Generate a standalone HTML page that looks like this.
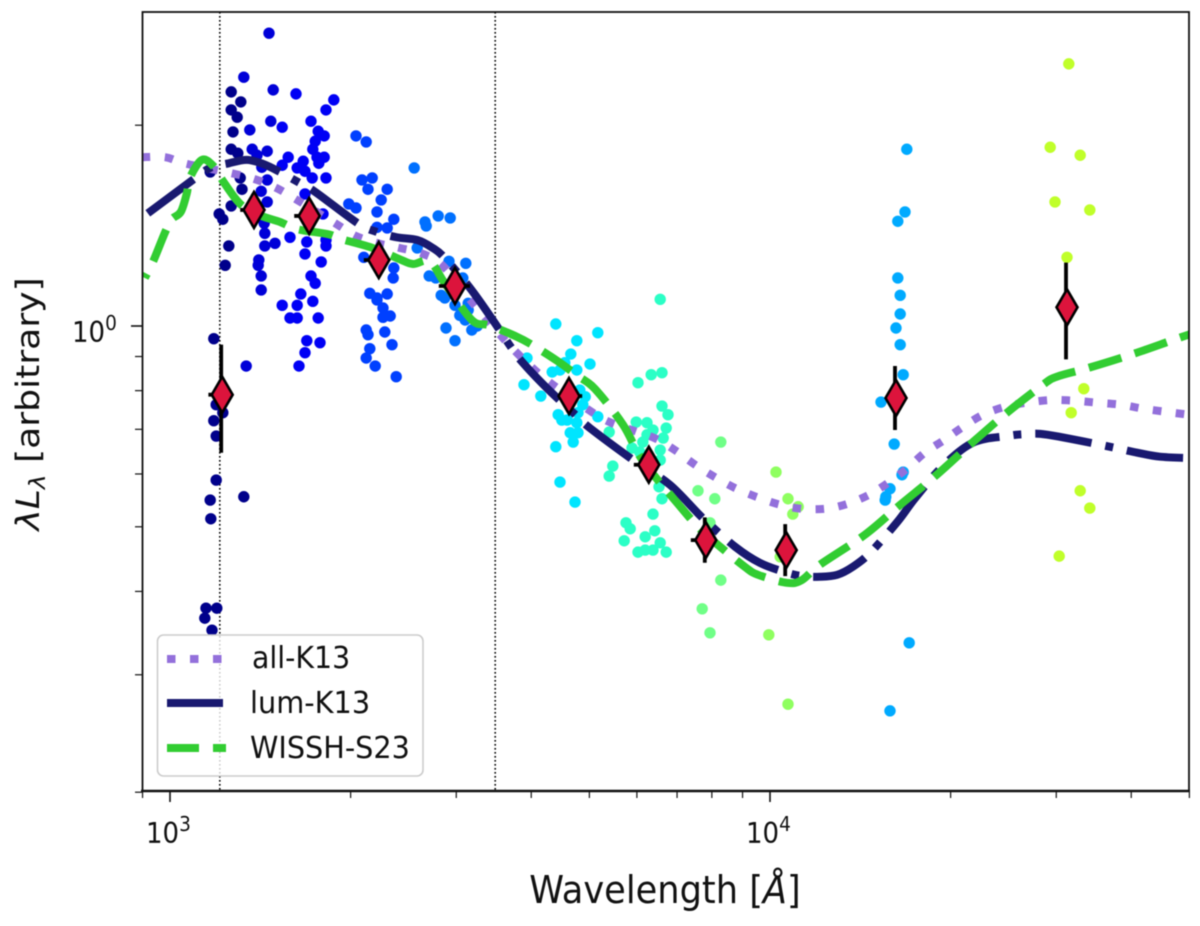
<!DOCTYPE html>
<html lang="en">
<head>
<meta charset="utf-8">
<title>Quasar SED chart</title>
<style>
html,body{margin:0;padding:0;background:#fff;}
svg{display:block;filter:blur(0.6px);}
text{font-family:"DejaVu Sans","Liberation Sans",sans-serif;fill:#111;}
</style>
</head>
<body>
<svg id="chart" width="1200" height="926" viewBox="0 0 1200 926" xmlns="http://www.w3.org/2000/svg">
  <defs><clipPath id="plot-clip"><rect x="142" y="12" width="1047" height="779"/></clipPath></defs>
  <rect x="0" y="0" width="1200" height="926" fill="#fff"/>
  <g id="ref-lines" clip-path="url(#plot-clip)"></g>
  <g id="dots" clip-path="url(#plot-clip)"></g>
  <g id="curves" clip-path="url(#plot-clip)"></g>
  <g id="means" clip-path="url(#plot-clip)"></g>
  <g id="axes">
    <rect x="142.5" y="12" width="1046.5" height="779" fill="none" stroke="#111" stroke-width="1.8"/>
    <line x1="141" x2="1190" y1="791" y2="791" stroke="#111" stroke-width="2.6"/>
  </g>
  <g id="legend">
    <rect x="157.5" y="635" width="265.5" height="141" rx="6" ry="6" fill="#fff" fill-opacity="0.8" stroke="#cccccc" stroke-width="1.6"/>
    <g>
      <line x1="167" x2="224" y1="659" y2="659" stroke="#9370db" stroke-width="8" stroke-dasharray="8.5 14.5"/>
      <text transform="translate(252,668) scale(1,1.06)" font-size="28.4">all-K13</text>
    </g>
    <g>
      <line x1="167" x2="223" y1="703" y2="703" stroke="#191970" stroke-width="8"/>
      <text transform="translate(250,713) scale(1,1.06)" font-size="28.8">lum-K13</text>
    </g>
    <g>
      <line x1="167" x2="226" y1="748" y2="748" stroke="#32cd32" stroke-width="8" stroke-dasharray="32 14"/>
      <text transform="translate(250,758) scale(1,1.06)" font-size="28.7">WISSH-S23</text>
    </g>
  </g>
  <text transform="translate(665,903) scale(1,1.08)" text-anchor="middle" font-size="35.2">Wavelength [<tspan font-style="italic">Å</tspan>]</text>
  <text transform="translate(39,404) rotate(-90) scale(1.13,1)" text-anchor="middle" font-size="32"><tspan font-style="italic">λL</tspan><tspan font-style="italic" font-size="22" dy="6">λ</tspan><tspan dy="-6"> [arbitrary]</tspan></text>
</svg>
<script>
// All values are log10(wavelength / Angstrom) and log10(lambda L_lambda).
const xTicksMajor = [3, 4];
const xTickExponents = ['3', '4'];
const xTicksMinor = [900, 2000, 3000, 4000, 5000, 6000, 7000, 8000, 9000, 20000, 30000, 40000, 50000];
const yTicksMajor = [1];
const yTickExponents = ['0'];
const yTicksMinor = [0.2, 0.3, 0.4, 0.5, 0.6, 0.7, 0.8, 0.9, 2];
const refWavelengths = [3.083, 3.542];

const band1Wave = [3.102,3.118,3.102,3.112,3.105,3.102,3.113,3.117,3.120,3.102,3.082,3.088,3.098,3.092,3.073,3.077,3.088,3.073,3.077,3.077,3.067,3.068,3.060,3.078,3.058,3.070,3.123,3.067];
const band1Lum = [.351,.336,.324,.313,.291,.265,.259,.222,.205,.180,.168,.160,.120,.091,-.019,-.118,-.130,-.142,-.165,-.231,-.261,-.289,-.423,-.423,-.438,-.456,-.256,.231];
const band2Wave = [3.123,3.165,3.172,3.168,3.133,3.137,3.162,3.145,3.153,3.162,3.152,3.162,3.157,3.158,3.158,3.175,3.148,3.147,3.152,3.152,3.127];
const band2Lum = [.373,.439,.354,.307,.294,.265,.262,.256,.238,.219,.202,.186,.154,.139,.120,.124,.099,.091,.075,.054,-.060];
const band3Wave = [3.210,3.273,3.260,3.187,3.235,3.247,3.257,3.242,3.238,3.257,3.245,3.197,3.222,3.248,3.187,3.212,3.225,3.237,3.260,3.225,3.255,3.200,3.228,3.260,3.260,3.225,3.252,3.235,3.242,3.218,3.238,3.187,3.212,3.200,3.212,3.247,3.228,3.250,3.225,3.215];
const band3Lum = [.348,.339,.324,.298,.307,.292,.285,.277,.265,.253,.253,.253,.247,.244,.241,.237,.232,.222,.222,.198,.168,.133,.126,.129,.120,.108,.096,.075,.064,.048,.037,.031,.031,.012,.012,.012,-.022,-.025,-.040,-.060];
const band4Wave = [3.310,3.327,3.320,3.337,3.330,3.362,3.352,3.298,3.310,3.345,3.373,3.345,3.362,3.323,3.373,3.372,3.333,3.362,3.345,3.355,3.355,3.367,3.345,3.327,3.330,3.358,3.370,3.333,3.327,3.342,3.377];
const band4Lum = [.285,.276,.219,.222,.205,.205,.189,.183,.177,.171,.160,.148,.147,.103,.087,.072,.049,.048,.042,.027,.013,.015,.039,-.006,-.013,-.009,-.028,-.034,-.048,-.060,-.076];
const band5Wave = [3.407,3.425,3.447,3.467,3.427,3.412,3.465,3.493,3.432,3.443,3.488,3.452,3.458,3.475,3.497,3.497,3.483,3.492,3.512,3.503,3.460,3.475];
const band5Lum = [.237,.156,.165,.162,.150,.117,.097,.094,.075,.072,.072,.046,.042,.031,.034,.024,.016,.009,.000,-.006,-.003,-.022];
const band6Wave = [3.643,3.713,3.678,3.668,3.700,3.595,3.658,3.637,3.650,3.678,3.590,3.618,3.647,3.662,3.653,3.688,3.692,3.713,3.678,3.667,3.680,3.672,3.643,3.650,3.675,3.683,3.680];
const band6Lum = [.003,-.010,-.022,-.042,-.057,-.048,-.055,-.069,-.066,-.066,-.088,-.105,-.133,-.141,-.141,-.118,-.106,-.136,-.145,-.160,-.160,-.174,-.181,-.234,-.264,-.096,-.130];
const band7Wave = [3.817,3.820,3.802,3.780,3.820,3.830,3.777,3.795,3.827,3.732,3.805,3.795,3.822,3.788,3.817,3.770,3.783,3.817,3.738,3.732,3.815,3.820,3.805,3.760,3.767,3.808,3.792,3.757,3.817,3.780,3.792,3.805,3.827];
const band7Lum = [.040,-.070,-.073,-.085,-.120,-.133,-.144,-.145,-.153,-.159,-.156,-.163,-.168,-.174,-.186,-.183,-.189,-.201,-.210,-.225,-.241,-.259,-.282,-.295,-.304,-.307,-.316,-.322,-.325,-.339,-.336,-.336,-.339];
const band8Wave = [3.918,3.880,3.908,3.900,3.918,3.887,3.900];
const band8Lum = [-.174,-.247,-.259,-.295,-.381,-.424,-.460];
const band9Wave = [4.010,4.030,4.047,4.038,4.017,3.998,4.030];
const band9Lum = [-.219,-.259,-.271,-.282,-.346,-.463,-.567];
const band10Wave = [4.228,4.225,4.213,4.213,4.217,4.217,4.210,4.217,4.222,4.185,4.207,4.222,4.220,4.200,4.193,4.192,4.232,4.200];
const band10Lum = [.265,.171,.157,.072,.046,.018,-.003,-.028,-.073,-.114,-.177,-.219,-.223,-.244,-.256,-.261,-.475,-.577];
const band11Wave = [4.498,4.467,4.517,4.475,4.533,4.495,4.523,4.502,4.517,4.533,4.482];
const band11Lum = [.393,.268,.256,.186,.174,.103,-.094,-.130,-.247,-.273,-.345];

const allK13Wave = [2.953,2.992,3.028,3.103,3.142,3.177,3.210,3.277,3.310,3.347,3.383,3.422,3.455,3.505,3.553,3.580,3.608,3.638,3.703,3.735,3.773,3.810,3.843,3.875,3.907,3.942,3.977,4.013,4.052,4.092,4.128,4.165,4.197,4.228,4.258,4.290,4.322,4.355,4.392,4.428,4.468,4.507,4.545,4.585,4.622,4.662,4.698];
const allK13Lum = [.253,.253,.243,.229,.220,.207,.190,.153,.135,.124,.117,.108,.090,.034,-.016,-.042,-.066,-.088,-.129,-.145,-.157,-.169,-.187,-.208,-.226,-.243,-.256,-.267,-.274,-.274,-.267,-.253,-.235,-.214,-.190,-.171,-.151,-.133,-.121,-.115,-.111,-.112,-.115,-.118,-.124,-.129,-.133];
const lumK13Wave = [2.963,3.038,3.067,3.098,3.128,3.155,3.183,3.213,3.242,3.313,3.345,3.378,3.412,3.438,3.458,3.500,3.538,3.567,3.587,3.628,3.678,3.700,3.772,3.833,3.888,3.942,3.983,4.025,4.053,4.083,4.112,4.138,4.167,4.212,4.242,4.287,4.338,4.395,4.428,4.462,4.550,4.612,4.650,4.698];
const lumK13Lum = [.169,.219,.237,.244,.249,.243,.231,.216,.201,.154,.141,.133,.129,.117,.102,.057,.009,-.030,-.054,-.093,-.135,-.153,-.201,-.238,-.288,-.331,-.355,-.369,-.375,-.376,-.373,-.361,-.340,-.294,-.258,-.211,-.175,-.165,-.162,-.163,-.178,-.190,-.196,-.198];
const wisshWave = [2.958,2.972,2.992,3.003,3.018,3.028,3.033,3.053,3.072,3.087,3.117,3.150,3.183,3.213,3.262,3.287,3.338,3.383,3.405,3.433,3.458,3.503,3.532,3.578,3.603,3.645,3.680,3.708,3.755,3.788,3.847,3.883,3.917,3.958,3.980,4.028,4.053,4.083,4.158,4.217,4.278,4.337,4.395,4.455,4.478,4.530,4.605,4.678,4.708];
const wisshLum = [.072,.097,.141,.160,.171,.199,.222,.249,.240,.219,.183,.166,.156,.145,.138,.130,.117,.100,.093,.097,.064,.009,.001,-.016,-.028,-.052,-.075,-.094,-.148,-.202,-.267,-.304,-.331,-.361,-.373,-.385,-.381,-.358,-.313,-.268,-.223,-.175,-.130,-.088,-.076,-.063,-.042,-.019,-.010];

const meanWave = [3.087,3.140,3.232,3.348,3.475,3.665,3.798,3.893,4.027,4.210,4.495];
const meanLum = [-.103,.174,.165,.099,.060,-.105,-.208,-.321,-.336,-.108,.028];
const meanErrUp = [.075,.024,.024,.024,.024,.024,.024,.034,.039,.048,.067];
const meanErrDown = [.087,.024,.024,.024,.024,.024,.024,.034,.039,.048,.078];
const meanWaveErrLow = [.023,.023,.025,.025,.027,.018,.025,.025,.015,.015,.015];
const meanWaveErrHigh = [.015,.017,.017,.017,.025,.022,.017,.017,.015,.015,.015];

const bandWaves = [band1Wave,band2Wave,band3Wave,band4Wave,band5Wave,band6Wave,band7Wave,band8Wave,band9Wave,band10Wave,band11Wave];
const bandLums = [band1Lum,band2Lum,band3Lum,band4Lum,band5Lum,band6Lum,band7Lum,band8Lum,band9Lum,band10Lum,band11Lum];
const bandColors = ['#00008b','#0000d8','#0000f5','#0040ff','#0070ff','#00e5ff','#2bffc6','#70ff87','#8fff60','#00aaff','#c0ff2a'];

const SVGNS = 'http://www.w3.org/2000/svg';
function xScale(v){ return 170 + 600 * (v - 3); }
function yScale(v){ return 326 - 667 * v; }
function mk(tag, parent, attrs){
  const el = document.createElementNS(SVGNS, tag);
  for (const k in attrs) el.setAttribute(k, attrs[k]);
  parent.appendChild(el);
  return el;
}
function smoothPath(xs, ys){
  const p = xs.map((x, i) => [xScale(x), yScale(ys[i])]);
  let d = 'M' + p[0][0].toFixed(1) + ' ' + p[0][1].toFixed(1);
  for (let i = 0; i < p.length - 1; i++){
    const a = p[Math.max(i - 1, 0)], b = p[i], c = p[i + 1], e = p[Math.min(i + 2, p.length - 1)];
    const c1x = b[0] + (c[0] - a[0]) / 6, c1y = b[1] + (c[1] - a[1]) / 6;
    const c2x = c[0] - (e[0] - b[0]) / 6, c2y = c[1] - (e[1] - b[1]) / 6;
    d += 'C' + c1x.toFixed(1) + ' ' + c1y.toFixed(1) + ' ' + c2x.toFixed(1) + ' ' + c2y.toFixed(1) + ' ' + c[0].toFixed(1) + ' ' + c[1].toFixed(1);
  }
  return d;
}

const refG = document.getElementById('ref-lines');
refWavelengths.forEach(function(v){
  const el = mk('line', refG, {x1:xScale(v), x2:xScale(v), y1:12, y2:791, stroke:'#000', 'stroke-width':1.6, 'stroke-dasharray':'1.6 2.4'});
  
  
});

const dotsG = document.getElementById('dots');
bandWaves.forEach(function(wave, b){
  wave.forEach(function(w, i){
    const el = mk('circle', dotsG, {cx:xScale(w), cy:yScale(bandLums[b][i]), r:5.7, fill:bandColors[b]});
    
    
  });
});

const curvesG = document.getElementById('curves');
const allPath = mk('path', curvesG, {d:smoothPath(allK13Wave, allK13Lum), fill:'none', stroke:'#9370db', 'stroke-width':8, 'stroke-dasharray':'8.5 14.5'});


const lumPath = mk('path', curvesG, {d:smoothPath(lumK13Wave, lumK13Lum), fill:'none', stroke:'#191970', 'stroke-width':8, 'stroke-dasharray':'57 14 8 14'});


const wisshPath = mk('path', curvesG, {d:smoothPath(wisshWave, wisshLum), fill:'none', stroke:'#32cd32', 'stroke-width':8, 'stroke-dasharray':'34 14', 'stroke-dashoffset':29.2});



const meansG = document.getElementById('means');
meanWave.forEach(function(w, i){
  const cx = xScale(w), cy = yScale(meanLum[i]);
  const vbar = mk('line', meansG, {x1:cx - 1, x2:cx - 1, y1:yScale(meanLum[i] + meanErrUp[i]), y2:yScale(meanLum[i] - meanErrDown[i]), stroke:'#000', 'stroke-width':3.8});
  
  
  const hbar = mk('line', meansG, {x1:xScale(w - meanWaveErrLow[i]), x2:xScale(w + meanWaveErrHigh[i]), y1:cy, y2:cy, stroke:'#000', 'stroke-width':3.8});
  
  
  const pts = [[cx, cy - 18], [cx + 10.5, cy], [cx, cy + 18], [cx - 10.5, cy]].map(function(q){ return q[0].toFixed(1) + ',' + q[1].toFixed(1); }).join(' ');
  const dia = mk('polygon', meansG, {points:pts, fill:'#dc143c', stroke:'#000', 'stroke-width':2.6, 'stroke-linejoin':'miter'});
  
  
});

const axesG = document.getElementById('axes');
xTicksMajor.forEach(function(v, i){
  const x = xScale(v);
  const t = mk('line', axesG, {x1:x, x2:x, y1:791, y2:802, stroke:'#111', 'stroke-width':1.6});
  
  
  const lab = mk('text', axesG, {transform:'translate(' + (x - 24) + ',843) scale(1,1.09)', 'font-size':26});
  
  
  lab.textContent = '10';
  const sup = mk('tspan', lab, {'font-size':18.5, dy:-11});
  sup.textContent = xTickExponents[i];
});
xTicksMinor.forEach(function(v){
  const x = xScale(Math.log10(v));
  const t = mk('line', axesG, {x1:x, x2:x, y1:791, y2:798, stroke:'#111', 'stroke-width':1.2});
  
  
});
yTicksMajor.forEach(function(v, i){
  const y = yScale(Math.log10(v));
  const t = mk('line', axesG, {x1:131, x2:142, y1:y, y2:y, stroke:'#111', 'stroke-width':1.6});
  
  
  const lab = mk('text', axesG, {transform:'translate(72,' + (y + 16) + ') scale(1,1.09)', 'font-size':26});
  
  
  lab.textContent = '10';
  const sup = mk('tspan', lab, {'font-size':18.5, dy:-11});
  sup.textContent = yTickExponents[i];
});
yTicksMinor.forEach(function(v){
  const y = yScale(Math.log10(v));
  const t = mk('line', axesG, {x1:135, x2:142, y1:y, y2:y, stroke:'#111', 'stroke-width':1.2});
  
  
});
</script>
</body>
</html>
